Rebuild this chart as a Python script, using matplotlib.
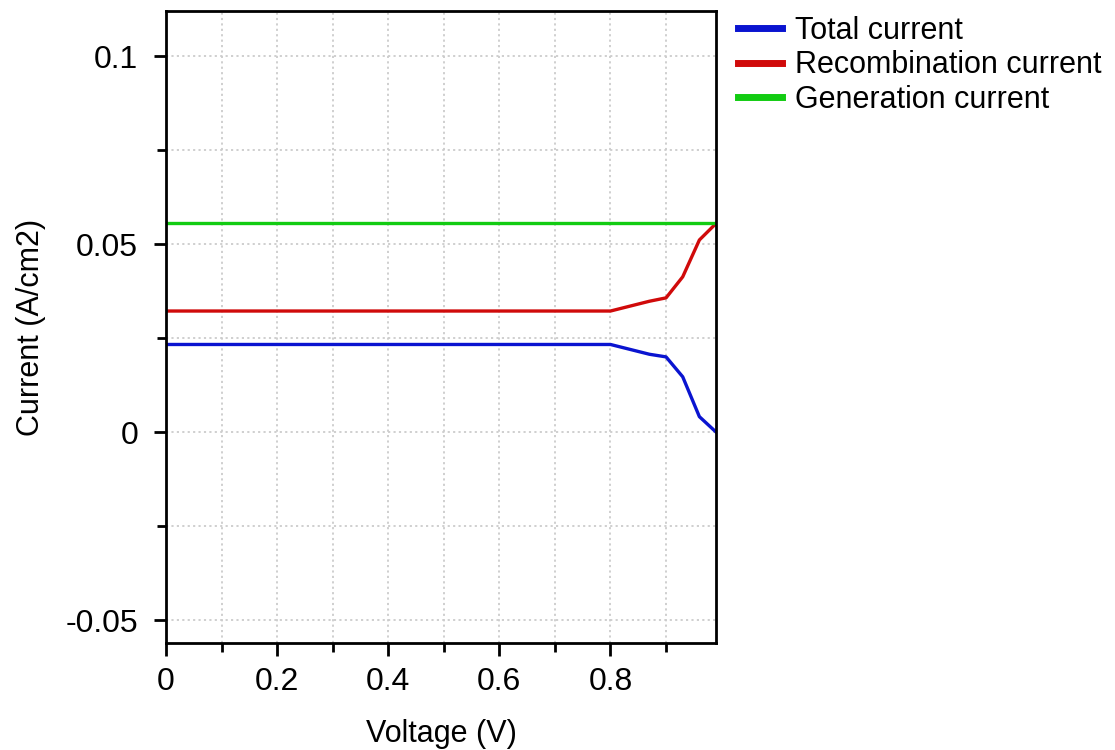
import numpy as np
import matplotlib
matplotlib.use('Agg')
import matplotlib.pyplot as plt
from matplotlib.ticker import MultipleLocator

plt.rcParams['font.family'] = ['Liberation Sans', 'DejaVu Sans']

voltage = [0.0, 0.8, 0.87, 0.9, 0.93, 0.96, 0.99]
total_current = [0.0233, 0.0233, 0.0207, 0.0200, 0.0147, 0.0041, 0.0000]
recomb_current = [0.0322, 0.0322, 0.0348, 0.0357, 0.0413, 0.0511, 0.0555]
gen_current = [0.0555, 0.0555, 0.0555, 0.0555, 0.0555, 0.0555, 0.0555]


def main():
    fig = plt.figure(figsize=(11.15, 7.5), dpi=100)
    ax = fig.add_axes([0.1489, 0.1427, 0.4933, 0.8426])

    ax.plot(voltage, total_current, color='#0a14d0', lw=2.4, label='Total current')
    ax.plot(voltage, recomb_current, color='#d00a0a', lw=2.4, label='Recombination current')
    ax.plot(voltage, gen_current, color='#12cc12', lw=2.4, label='Generation current')

    ax.set_xlim(0, 0.99)
    ax.set_ylim(-0.0561, 0.112)
    ax.xaxis.set_minor_locator(MultipleLocator(0.1))
    ax.yaxis.set_minor_locator(MultipleLocator(0.025))
    ax.set_xticks([0, 0.2, 0.4, 0.6, 0.8])
    ax.set_xticklabels(['0', '0.2', '0.4', '0.6', '0.8'])
    ax.set_yticks([-0.05, 0, 0.05, 0.1])
    ax.set_yticklabels(['-0.05', '0', '0.05', '0.1'])

    ax.grid(True, which='both', color='#cccccc', linestyle=(0, (1.2, 1.8)), lw=1.3)
    ax.tick_params(which='major', direction='out', length=9, width=2, labelsize=23)
    ax.tick_params(which='minor', direction='out', length=6.5, width=2)
    ax.tick_params(axis='x', which='major', pad=8)
    ax.tick_params(axis='y', which='major', pad=11)
    for sp in ax.spines.values():
        sp.set_linewidth(2)

    ax.set_xlabel('Voltage (V)', fontsize=22, labelpad=16)
    ax.set_ylabel('Current (A/cm2)', fontsize=22)
    ax.yaxis.set_label_coords(-0.218, 0.5)

    leg = ax.legend(loc='upper left', bbox_to_anchor=(1.018, 1.012), frameon=False,
                    fontsize=22, handlelength=1.45, handletextpad=0.4,
                    labelspacing=0.15, borderaxespad=0)
    for h in leg.get_lines():
        h.set_linewidth(5)

    fig.savefig('out.png', dpi=100)
    plt.close(fig)


if __name__ == "__main__":
    main()
